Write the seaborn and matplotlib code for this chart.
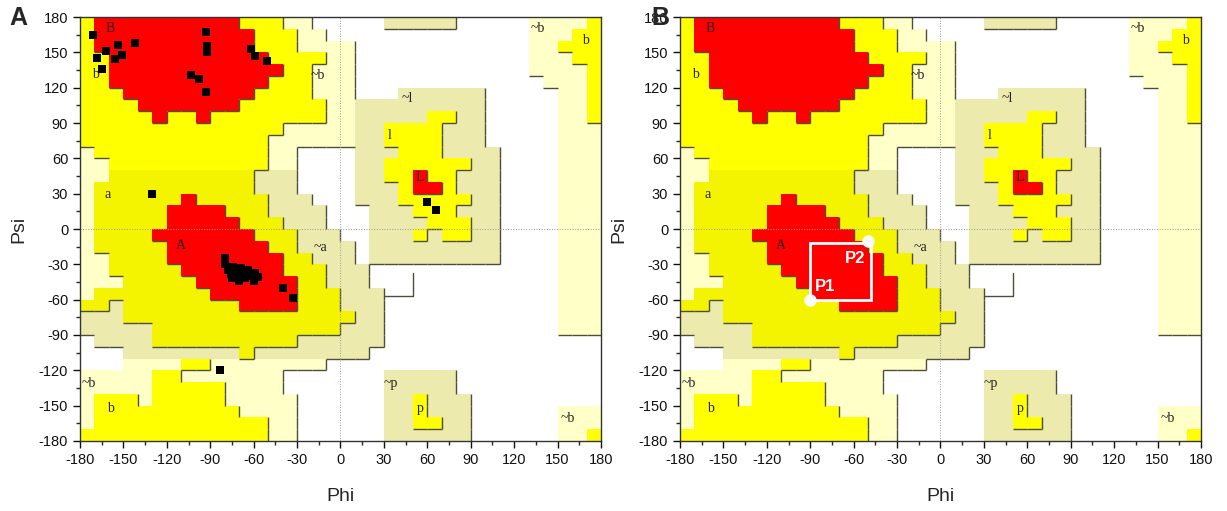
import numpy as np
import matplotlib
matplotlib.use("Agg")
import matplotlib.pyplot as plt
from matplotlib.colors import ListedColormap
from matplotlib.collections import LineCollection
import seaborn as sns

# Ramachandran region map, 10 degree cells
# rows: psi 180 -> -180, columns: phi -180 -> 180
# W white, P pale (~b), K khaki (~a ~l ~p), A yellow (a), Y yellow, R red (core)
region_rows = [
    "Y" + "R" * 10 + "YYY" + "PP" + "W" * 5 + "K" * 5 + "W" * 5 + "PPPP" + "Y",
    "Y" + "R" * 11 + "YYY" + "PP" + "W" * 14 + "PPP" + "YY",
    "Y" + "R" * 11 + "YYY" + "PPPP" + "W" * 12 + "PP" + "YYY",
    "YY" + "R" * 11 + "YYYY" + "PP" + "W" * 12 + "PPP" + "YY",
    "YY" + "R" * 12 + "YY" + "PPP" + "W" * 12 + "PPPP" + "Y",
    "YY" + "R" * 11 + "YYY" + "PPP" + "W" * 13 + "PPP" + "Y",
    "YYY" + "R" * 9 + "YYYY" + "PPP" + "WWW" + "K" * 6 + "W" * 5 + "PP" + "Y",
    "YYYY" + "R" * 7 + "Y" * 6 + "PP" + "K" * 9 + "W" * 5 + "PP" + "Y",
    "Y" * 5 + "R" + "YY" + "R" + "Y" * 8 + "PP" + "K" * 5 + "YY" + "KK" + "W" * 5 + "PP" + "Y",
    "Y" * 14 + "P" * 5 + "KK" + "YYYY" + "KKK" + "W" * 5 + "PPP",
    "Y" * 13 + "P" * 6 + "KK" + "YYYY" + "KKK" + "W" * 5 + "PPP",
    "P" + "Y" * 12 + "PP" + "WWWW" + "KKK" + "YYY" + "KKKK" + "WWWW" + "PPP",
    "PP" + "Y" * 11 + "PP" + "WWWW" + "KK" + "Y" * 6 + "KK" + "WWWW" + "PPP",
    "PP" + "A" * 10 + "KKK" + "WWWW" + "KK" + "YY" + "R" + "YY" + "KKK" + "WWWW" + "PPP",
    "P" + "A" * 11 + "KKK" + "WWWW" + "KKK" + "Y" + "RR" + "Y" + "KKK" + "WWWW" + "PPP",
    "P" + "A" * 6 + "R" + "A" * 5 + "KKK" + "WWW" + "KKK" + "Y" * 5 + "KK" + "WWWW" + "PPP",
    "P" + "A" * 5 + "RRRR" + "AAA" + "KKKK" + "WWW" + "KKK" + "YYY" + "KKK" + "WWWW" + "PPP",
    "P" + "A" * 5 + "R" * 5 + "AAA" + "KKK" + "WWW" + "KKKK" + "YYY" + "KK" + "WWWW" + "PPP",
    "P" + "A" * 4 + "R" * 7 + "AAA" + "KKK" + "WW" + "KKK" + "Y" + "K" + "YY" + "KK" + "WWWW" + "PPP",
    "P" + "A" * 5 + "R" * 7 + "AA" + "KKKK" + "W" + "K" * 9 + "WWWW" + "PPP",
    "PP" + "A" * 4 + "R" * 8 + "AA" + "KKK" + "W" + "K" * 9 + "WWWW" + "PPP",
    "PP" + "A" * 5 + "R" * 7 + "AAA" + "KKK" + "W" * 13 + "PPP",
    "PPP" + "A" * 5 + "R" * 7 + "AA" + "KKK" + "W" * 13 + "PPP",
    "P" + "A" * 8 + "R" * 6 + "AAA" + "KKK" + "W" * 12 + "PPP",
    "AA" + "K" + "A" * 8 + "R" * 4 + "AAA" + "KKK" + "W" * 12 + "PPP",
    "KKK" + "A" * 16 + "KK" + "W" * 12 + "PPP",
    "K" * 5 + "A" * 13 + "KKK" + "W" * 12 + "PPP",
    "W" + "K" * 4 + "A" * 10 + "K" * 6 + "W" * 15,
    "WWW" + "K" * 8 + "A" + "K" * 8 + "W" * 16,
    "WWW" + "PPPP" + "YY" + "P" * 8 + "W" * 19,
    "P" * 5 + "YY" + "P" * 7 + "W" * 7 + "K" * 5 + "W" * 10,
    "P" * 5 + "Y" * 5 + "P" * 4 + "W" * 7 + "K" * 5 + "W" * 10,
    "P" + "YYY" + "P" + "Y" * 5 + "P" * 5 + "W" * 6 + "KK" + "Y" + "KKK" + "W" * 9,
    "P" + "Y" * 10 + "P" * 4 + "W" * 6 + "KK" + "Y" + "KKK" + "W" * 6 + "PPP",
    "P" + "Y" * 12 + "PP" + "W" * 6 + "KK" + "YY" + "KK" + "W" * 6 + "PPP",
    "Y" * 13 + "PP" + "W" * 6 + "K" * 6 + "W" * 6 + "PP" + "Y",
]
region_codes = "WPKAYR"
region_colors = ["#FFFFFF", "#FFFFC8", "#ECEAAC", "#F4F400", "#FFFF00", "#FF0000"]
region_level = {"W": 0, "P": 1, "K": 1, "A": 2, "Y": 2, "R": 3}

# stray border line seen in the map (phi, psi)
stray_phi = [30, 50, 50]
stray_psi = [-57, -57, -37]

# region names
label_text = ["B", "b", "a", "A", "~b", "~l", "l", "L", "~a", "~b", "b", "~b", "b", "~p", "p", "~b"]
label_phi = [-159, -169, -161, -110, -16, 46, 34, 55, -14, 136, 169, -174, -159, 35, 55, 157]
label_psi = [170, 131, 29, -14, 130, 111, 79, 44, -16, 170, 160, -131, -152, -131, -152, -161]

# residues, panel A
res_phi = [-171, -154, -142, -162, -151, -156, -168, -165, -93, -92, -92, -103, -98, -93,
           -62, -59, -51, -130,
           -80, -80, -78, -76, -74, -72, -71, -69, -67, -66, -64, -62, -60, -59, -57, -75, -70,
           -40, -33, -83, 60, 66]
res_psi = [165, 156, 158, 151, 148, 144, 145, 136, 167, 155, 150, 131, 127, 116,
           153, 147, 143, 30,
           -25, -30, -35, -38, -32, -36, -40, -33, -38, -42, -35, -40, -44, -37, -41, -42, -44,
           -50, -59, -120, 23, 16]

# panel B points and box
p_names = ["P1", "P2"]
p_phi = [-90, -50]
p_psi = [-60, -10]
box_phi = [-90, -48]
box_psi = [-60, -12]

sns.set_theme(style="ticks")
plt.rcParams["font.family"] = ["Liberation Sans", "DejaVu Sans"]
plt.rcParams["axes.unicode_minus"] = False

cmap = ListedColormap(region_colors)
grid = np.array([[region_codes.index(ch) for ch in row] for row in region_rows])
lev = np.array([[region_level[ch] for ch in row] for row in region_rows])
assert grid.shape == (36, 36)
edges = np.arange(-180, 181, 10)


def draw_map(ax):
    ax.pcolormesh(edges, edges[::-1], grid, cmap=cmap, vmin=-0.5, vmax=5.5)
    segs = []
    for r in range(36):
        for c in range(35):
            if lev[r, c] > lev[r, c + 1]:
                x = edges[c + 1]
                segs.append([(x, 180 - 10 * r), (x, 170 - 10 * r)])
    for r in range(35):
        for c in range(36):
            if lev[r, c] > lev[r + 1, c]:
                y = 170 - 10 * r
                segs.append([(edges[c], y), (edges[c + 1], y)])
    ax.add_collection(LineCollection(segs, colors="#4d4d38", linewidths=1.0))
    ax.plot(stray_phi, stray_psi, color="#4d4d38", lw=1.0)
    ax.axhline(0, color="#999999", lw=0.7, ls=":")
    ax.axvline(0, color="#999999", lw=0.7, ls=":")
    for t, x, y in zip(label_text, label_phi, label_psi):
        ax.text(x, y, t, family="Liberation Serif", fontsize=10, color="#222222",
                ha="center", va="center")
    ax.set_xlim(-180, 180)
    ax.set_ylim(-180, 180)
    ax.set_xticks(range(-180, 181, 30))
    ax.set_yticks(range(-180, 181, 30))
    ax.set_xticks(range(-180, 181, 15), minor=True)
    ax.set_yticks(range(-180, 181, 15), minor=True)
    ax.tick_params(which="major", direction="out", length=5, width=1, labelsize=10.5, colors="#111111")
    ax.tick_params(which="minor", direction="out", length=3, width=1)
    ax.set_xlabel("Phi", fontsize=14, labelpad=15)
    ax.set_ylabel("Psi", fontsize=14, labelpad=8)
    for s in ax.spines.values():
        s.set_color("#333333")
        s.set_linewidth(1)


fig = plt.figure(figsize=(12.27, 5.11), dpi=100)
axA = fig.add_axes([0.0652, 0.137, 0.4246, 0.8297])
axB = fig.add_axes([0.5542, 0.137, 0.4246, 0.8297])

draw_map(axA)
sns.scatterplot(x=res_phi, y=res_psi, ax=axA, marker="s", s=28, color="black",
                edgecolor="black", linewidth=0, zorder=5)

draw_map(axB)
axB.add_patch(plt.Rectangle((box_phi[0], box_psi[0]), box_phi[1] - box_phi[0],
                            box_psi[1] - box_psi[0], fill=False, ec="white", lw=2, zorder=5))
sns.scatterplot(x=p_phi, y=p_psi, ax=axB, marker="o", s=80, color="white",
                edgecolor="white", linewidth=0, zorder=6)
axB.text(p_phi[0] + 3, p_psi[0] + 7, p_names[0], color="white", fontsize=12, fontweight="bold", zorder=7)
axB.text(p_phi[1] - 16, p_psi[1] - 19, p_names[1], color="white", fontsize=12, fontweight="bold", zorder=7)

fig.text(0.008, 0.965, "A", fontsize=18, fontweight="bold", va="center")
fig.text(0.531, 0.965, "B", fontsize=18, fontweight="bold", va="center")

fig.savefig("out.png", dpi=100)
